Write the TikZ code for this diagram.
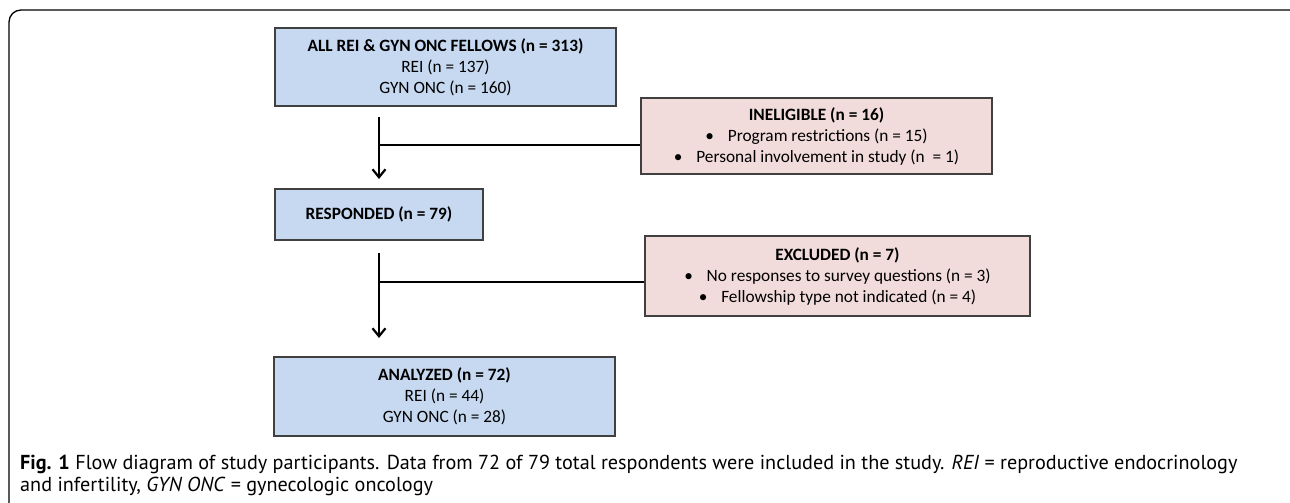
\documentclass[tikz,border=0pt]{standalone}
\usepackage{fontspec}
\setmainfont{Carlito}
\newfontfamily\capfont{PT Sans}
\usetikzlibrary{arrows.meta}
\definecolor{boxblue}{HTML}{C6D9F1}
\definecolor{boxpink}{HTML}{F2DCDB}
\definecolor{boxline}{HTML}{404040}
\tikzset{
  x=1pt, y=-1pt,
  flowbox/.style={draw=boxline, line width=1.3pt, inner sep=0pt, align=center,
    font=\fontsize{17.3}{21}\selectfont},
  bluebox/.style={flowbox, fill=boxblue},
  pinkbox/.style={flowbox, fill=boxpink},
  flowarrow/.style={line width=2.2pt, -{Straight Barb[length=8pt,width=13pt,line width=2.2pt]}},
  flowline/.style={line width=2.2pt},
  captext/.style={anchor=base west, inner sep=0pt, font=\capfont\fontsize{20.2}{23}\selectfont},
}
\newcommand{\bul}{\textbullet\hspace{0.8em}}
\begin{document}
\begin{tikzpicture}
\useasboundingbox (0,0) rectangle (1290,503);
% frame
\draw[line width=1.3pt, rounded corners=12pt] (9,510) -- (9,10) -- (1302,10) -- (1302,510);

\node[bluebox, minimum width=341pt, minimum height=78pt] (all) at (445.5,67)
  {\textbf{ALL REI \& GYN ONC FELLOWS (n = 313)}\\REI (n = 137)\\GYN ONC (n = 160)};
\node[pinkbox, minimum width=351pt, minimum height=76pt] (inel) at (816.5,136)
  {\textbf{INELIGIBLE (n = 16)}\\\bul Program restrictions (n = 15)\\\bul Personal involvement in study (n\ \ = 1)};
\node[bluebox, minimum width=208pt, minimum height=51pt] (resp) at (379,214.5)
  {\textbf{RESPONDED (n = 79)}};
\node[pinkbox, minimum width=385pt, minimum height=80pt] (excl) at (837.5,276)
  {\textbf{EXCLUDED (n = 7)}\\\bul No responses to survey questions (n = 3)\\\bul Fellowship type not indicated (n = 4)};
\node[bluebox, minimum width=341pt, minimum height=79pt] (anal) at (444.5,396.5)
  {\textbf{ANALYZED (n = 72)}\\REI (n = 44)\\GYN ONC (n = 28)};

\coordinate (s1) at (379,117);
\coordinate (b1) at (379,145);
\coordinate (e1) at (379,179);
\coordinate (s2) at (379,253);
\coordinate (b2) at (379,282);
\coordinate (e2) at (379,338);

\draw[flowarrow] (s1) -- (e1);
\draw[flowline] (b1) -- (b1 -| inel.west);
\draw[flowarrow] (s2) -- (e2);
\draw[flowline] (b2) -- (b2 -| excl.west);

\node[captext] (cap1) at (20,469)
  {\textbf{Fig. 1} Flow diagram of study participants. Data from 72 of 79 total respondents were included in the study. \textit{REI} = reproductive endocrinology};
\node[captext] (cap2) at (20,491)
  {and infertility, \textit{GYN ONC} = gynecologic oncology};
\end{tikzpicture}
\end{document}
